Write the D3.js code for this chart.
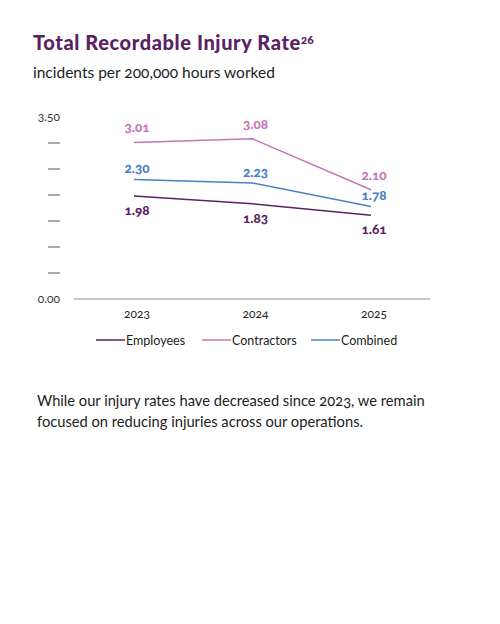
<!DOCTYPE html>
<html>
<head>
<meta charset="utf-8">
<script src="https://cdn.jsdelivr.net/npm/d3@7"></script>
<style>
  body { margin: 0; background: #fff; }
  svg text { font-family: "Lato", "Open Sans", sans-serif; font-feature-settings: "onum"; font-variant-numeric: oldstyle-nums; }
</style>
</head>
<body>
<div id="chart"></div>
<script>
// data
const years = ["2023", "2024", "2025"];
const employees = [1.98, 1.83, 1.61];
const contractors = [3.01, 3.08, 2.10];
const combined = [2.30, 2.23, 1.78];
const yTicks = [0, 0.5, 1, 1.5, 2, 2.5, 3, 3.5];

const series = [
  { name: "Employees", values: employees, color: "#5b2263", dy: 19 },
  { name: "Contractors", values: contractors, color: "#c775b6", dy: -10 },
  { name: "Combined", values: combined, color: "#4a80c6", dy: -6 }
];

const svg = d3.select("#chart").append("svg")
  .attr("width", 500)
  .attr("height", 624);

// title + subtitle
const title = svg.append("text")
  .attr("x", 33).attr("y", 50)
  .attr("fill", "#5b2263")
  .style("font-size", "20px")
  .style("font-weight", "900")
  .style("letter-spacing", "0.6px")
  .text("Total Recordable Injury Rate");
title.append("tspan")
  .attr("dy", -6)
  .style("font-size", "12px")
  .style("letter-spacing", "0px")
  .text("26");

svg.append("text")
  .attr("x", 33).attr("y", 78)
  .attr("fill", "#222")
  .style("font-size", "15.5px")
  .text("incidents per 200,000 hours worked");

// scales
const x = d3.scalePoint().domain(years).range([134, 371]);
const y = d3.scaleLinear().domain([0, 3.5]).range([299, 117]);

// y ticks: short dashes, labels only at ends
svg.append("g")
  .selectAll("line")
  .data(yTicks.filter(d => d > 0 && d < 3.5))
  .join("line")
  .attr("x1", 48).attr("x2", 60)
  .attr("y1", d => y(d)).attr("y2", d => y(d))
  .attr("stroke", "#555")
  .attr("stroke-width", 1);

svg.append("g")
  .selectAll("text")
  .data([0, 3.5])
  .join("text")
  .attr("x", 60)
  .attr("y", d => y(d) + 4)
  .attr("text-anchor", "end")
  .attr("fill", "#333")
  .style("font-size", "12px")
  .text(d => d3.format(".2f")(d));

// baseline
svg.append("line")
  .attr("x1", 74).attr("x2", 430)
  .attr("y1", y(0)).attr("y2", y(0))
  .attr("stroke", "#888")
  .attr("stroke-width", 1);

// x labels
svg.append("g")
  .selectAll("text")
  .data(years)
  .join("text")
  .attr("x", d => x(d) + 3)
  .attr("y", 318)
  .attr("text-anchor", "middle")
  .attr("fill", "#222")
  .style("font-size", "12px")
  .text(d => d);

// lines
const line = d3.line()
  .x((d, i) => x(years[i]))
  .y(d => y(d));

series.forEach(s => {
  svg.append("path")
    .datum(s.values)
    .attr("fill", "none")
    .attr("stroke", s.color)
    .attr("stroke-width", 1.5)
    .attr("d", line);

  svg.append("g")
    .selectAll("text")
    .data(s.values)
    .join("text")
    .attr("x", (d, i) => x(years[i]) + 3)
    .attr("y", d => y(d) + s.dy)
    .attr("text-anchor", "middle")
    .attr("fill", s.color)
    .style("font-size", "13.5px")
    .style("font-weight", "900")
    .text(d => d3.format(".2f")(d));
});

// legend
const legendX = [96, 202, 311];
const legend = svg.append("g")
  .selectAll("g")
  .data(series)
  .join("g")
  .attr("transform", (d, i) => `translate(${legendX[i]}, 340)`);
legend.append("line")
  .attr("x1", 0).attr("x2", 29)
  .attr("stroke", d => d.color)
  .attr("stroke-width", 1.5);
legend.append("text")
  .attr("x", 30).attr("y", 4.5)
  .attr("fill", "#222")
  .style("font-size", "12.5px")
  .text(d => d.name);

// note
const note = svg.append("text")
  .attr("fill", "#222")
  .style("font-size", "14.7px");
note.append("tspan").attr("x", 37).attr("y", 406)
  .text("While our injury rates have decreased since 2023, we remain");
note.append("tspan").attr("x", 37).attr("y", 427)
  .text("focused on reducing injuries across our operations.");
</script>
</body>
</html>
